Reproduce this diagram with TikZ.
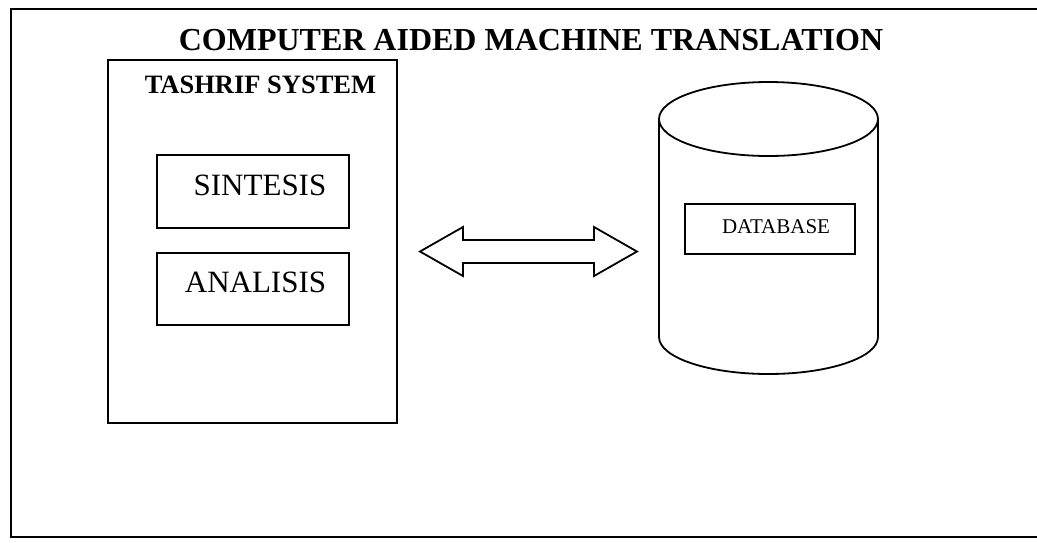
\documentclass[tikz,border=0pt]{standalone}
\usepackage{fontspec}
\setmainfont{Liberation Serif}
\begin{document}
\begin{tikzpicture}[x=1pt,y=-1pt,
  frame/.style={draw, line width=2pt},
  box/.style={draw, line width=1.9pt, inner sep=0pt, anchor=north west},
  lbl/.style={inner sep=0pt, anchor=base},
  bigtext/.style={font=\fontsize{31}{34}\selectfont},
  shapeline/.style={line width=1.8pt},
]
\useasboundingbox (0,0) rectangle (1037,542);
\clip (0,0) rectangle (1037,542);
% outer frame (right side lies beyond the picture)
\draw[frame] (1045,9) -- (11,9) -- (11,537) -- (1045,537);

% title
\node[lbl, font=\bfseries\fontsize{32}{36}\selectfont] (title) at (531,50) {COMPUTER AIDED MACHINE TRANSLATION};

% Tashrif system
\node[box, minimum width=289pt, minimum height=363pt] (tashrif) at (107,59) {};
\node[lbl, font=\bfseries\fontsize{26.5}{30}\selectfont] (tashriflbl) at (260.5,93) {TASHRIF SYSTEM};

\node[box, minimum width=192pt, minimum height=73pt] (sintesis) at (156,154) {};
\node[lbl, bigtext] (sintesislbl) at (260,195) {SINTESIS};

\node[box, minimum width=192pt, minimum height=72pt] (analisis) at (156,252) {};
\node[lbl, bigtext] (analisislbl) at (255.5,292) {ANALISIS};

% cylinder (database)
\coordinate (cylTop) at (768.5,119);
\coordinate (cylBot) at (768.5,337);
\draw[shapeline] (cylTop) ellipse [x radius=109.5, y radius=37];
\draw[shapeline] (659,119) -- (659,337) arc[start angle=180, end angle=0, x radius=109.5, y radius=37] -- (878,119);

\node[box, minimum width=170pt, minimum height=50pt] (database) at (684,203) {};
\node[lbl, font=\fontsize{21}{24}\selectfont] (databaselbl) at (776,233) {DATABASE};

% double block arrow between the two parts
\coordinate (aL) at (420,251.5);
\coordinate (aR) at (637,251.5);
\draw[shapeline, line join=miter]
  (aL) -- (463,227) -- (463,240) -- (594,240) -- (594,227) -- (aR)
  -- (594,276) -- (594,263) -- (463,263) -- (463,276) -- cycle;
\end{tikzpicture}
\end{document}
